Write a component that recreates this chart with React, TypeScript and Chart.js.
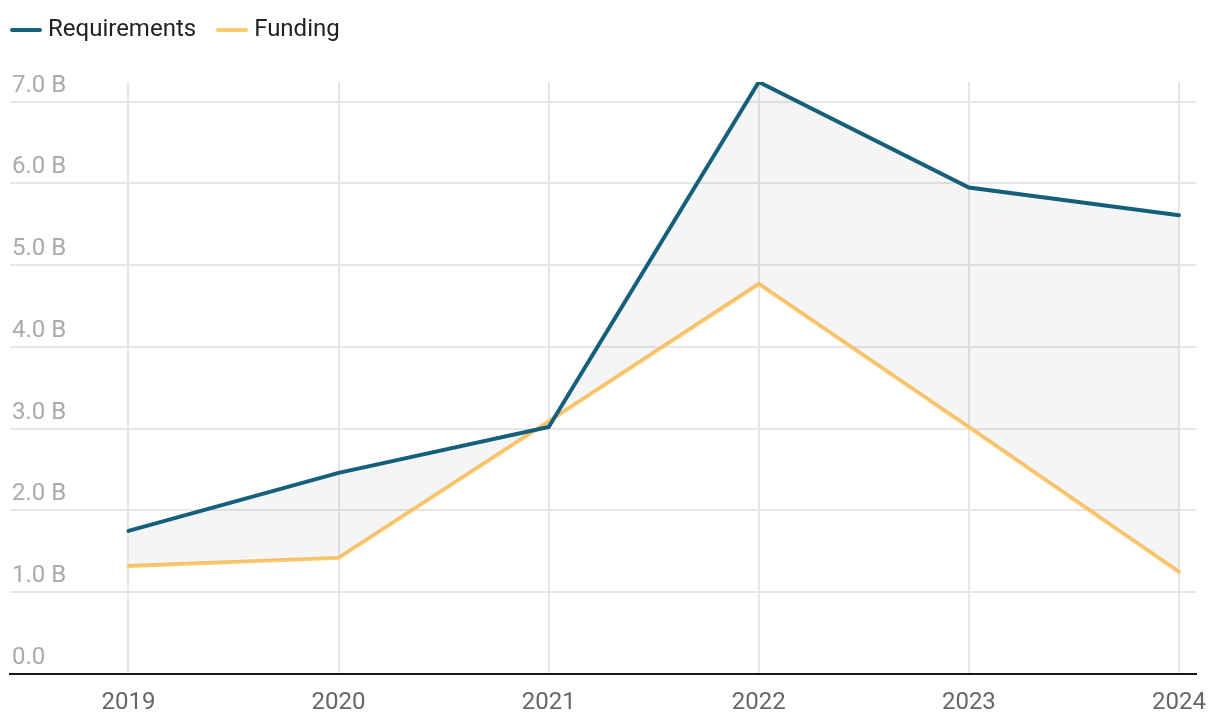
import React, { useEffect, useRef } from 'react';
import { Chart, registerables } from 'chart.js';

Chart.register(...registerables);

const years = [2019, 2020, 2021, 2022, 2023, 2024];
const requirements = [1.75, 2.46, 3.02, 7.24, 5.95, 5.61];
const funding = [1.32, 1.42, 3.09, 4.77, 3.02, 1.25];
const yTicks = [0, 1, 2, 3, 4, 5, 6, 7];
const seriesNames = ['Requirements', 'Funding'];
const seriesColors = ['#14607b', '#fdc86e'];

const FONT = 'Roboto, "Noto Sans", sans-serif';

function legendLine(color: string): HTMLCanvasElement {
  const c = document.createElement('canvas');
  c.width = 64;
  c.height = 8;
  const ctx = c.getContext('2d')!;
  ctx.strokeStyle = color;
  ctx.lineWidth = 4;
  ctx.lineCap = 'round';
  ctx.beginPath();
  ctx.moveTo(21, 4);
  ctx.lineTo(49, 4);
  ctx.stroke();
  return c;
}

const legendSpacing = {
  id: 'legendSpacing',
  beforeLayout(chart: any) {
    const legend = chart.legend;
    if (legend && !legend.__patched) {
      const orig = legend.fit;
      legend.fit = function () {
        orig.call(this);
        this.height = 84;
      };
      legend.__patched = true;
    }
  },
};

export default function App() {
  const ref = useRef<HTMLCanvasElement | null>(null);

  useEffect(() => {
    document.body.style.margin = '0';
    if (!ref.current) return;
    const chart = new Chart(ref.current, {
      type: 'line',
      data: {
        datasets: [
          {
            label: seriesNames[0],
            data: years.map((y, i) => ({ x: y, y: requirements[i] })),
            borderColor: seriesColors[0],
            backgroundColor: 'rgba(0,0,0,0.04)',
            borderWidth: 4,
            pointRadius: 0,
            pointStyle: legendLine(seriesColors[0]),
            fill: '+1',
            tension: 0,
            borderCapStyle: 'round',
          },
          {
            label: seriesNames[1],
            data: years.map((y, i) => ({ x: y, y: funding[i] })),
            borderColor: seriesColors[1],
            backgroundColor: seriesColors[1],
            borderWidth: 4,
            pointRadius: 0,
            pointStyle: legendLine(seriesColors[1]),
            fill: false,
            tension: 0,
            borderCapStyle: 'round',
          },
        ],
      },
      options: {
        responsive: false,
        animation: false,
        devicePixelRatio: 1,
        layout: { padding: { top: -2, left: -10, right: 24, bottom: -6 } },
        plugins: {
          tooltip: { enabled: false },
          legend: {
            display: true,
            position: 'top',
            align: 'start',
            labels: {
              usePointStyle: true,
              pointStyleWidth: 26,
              boxHeight: 4,
              padding: 20,
              color: '#222222',
              font: { family: FONT, size: 24, lineHeight: 1 },
            },
          },
        },
        scales: {
          x: {
            type: 'linear',
            min: 2018.436,
            max: 2024.081,
            afterBuildTicks(scale: any) {
              scale.ticks = years.map((v) => ({ value: v }));
            },
            afterFit(scale: any) {
              scale.paddingLeft = 0;
              scale.paddingRight = 0;
            },
            grid: { color: '#e6e6e6', lineWidth: 2, drawTicks: false },
            border: { display: true, color: '#1a1a1a', width: 2 },
            ticks: {
              padding: 17,
              color: '#666666',
              font: { family: FONT, size: 24, lineHeight: 1 },
              maxRotation: 0,
              callback: (v: any) => String(v),
            },
          },
          y: {
            type: 'linear',
            min: 0,
            max: 7.24,
            afterBuildTicks(scale: any) {
              scale.ticks = yTicks.map((v) => ({ value: v }));
            },
            afterFit(scale: any) {
              scale.width = 20;
            },
            grid: { color: '#e6e6e6', lineWidth: 2, drawTicks: false },
            border: { display: false },
            ticks: {
              mirror: true,
              padding: 2,
              labelOffset: -16,
              color: '#aaaaaa',
              font: { family: FONT, size: 24 },
              callback: (v: any) => (v === 0 ? '0.0' : `${Number(v).toFixed(1)} B`),
            },
          },
        },
      },
      plugins: [legendSpacing],
    } as any);
    return () => chart.destroy();
  }, []);

  return (
    <div style={{ width: 1220, height: 726 }}>
      <canvas ref={ref} width={1220} height={726} style={{ display: 'block' }} />
    </div>
  );
}
